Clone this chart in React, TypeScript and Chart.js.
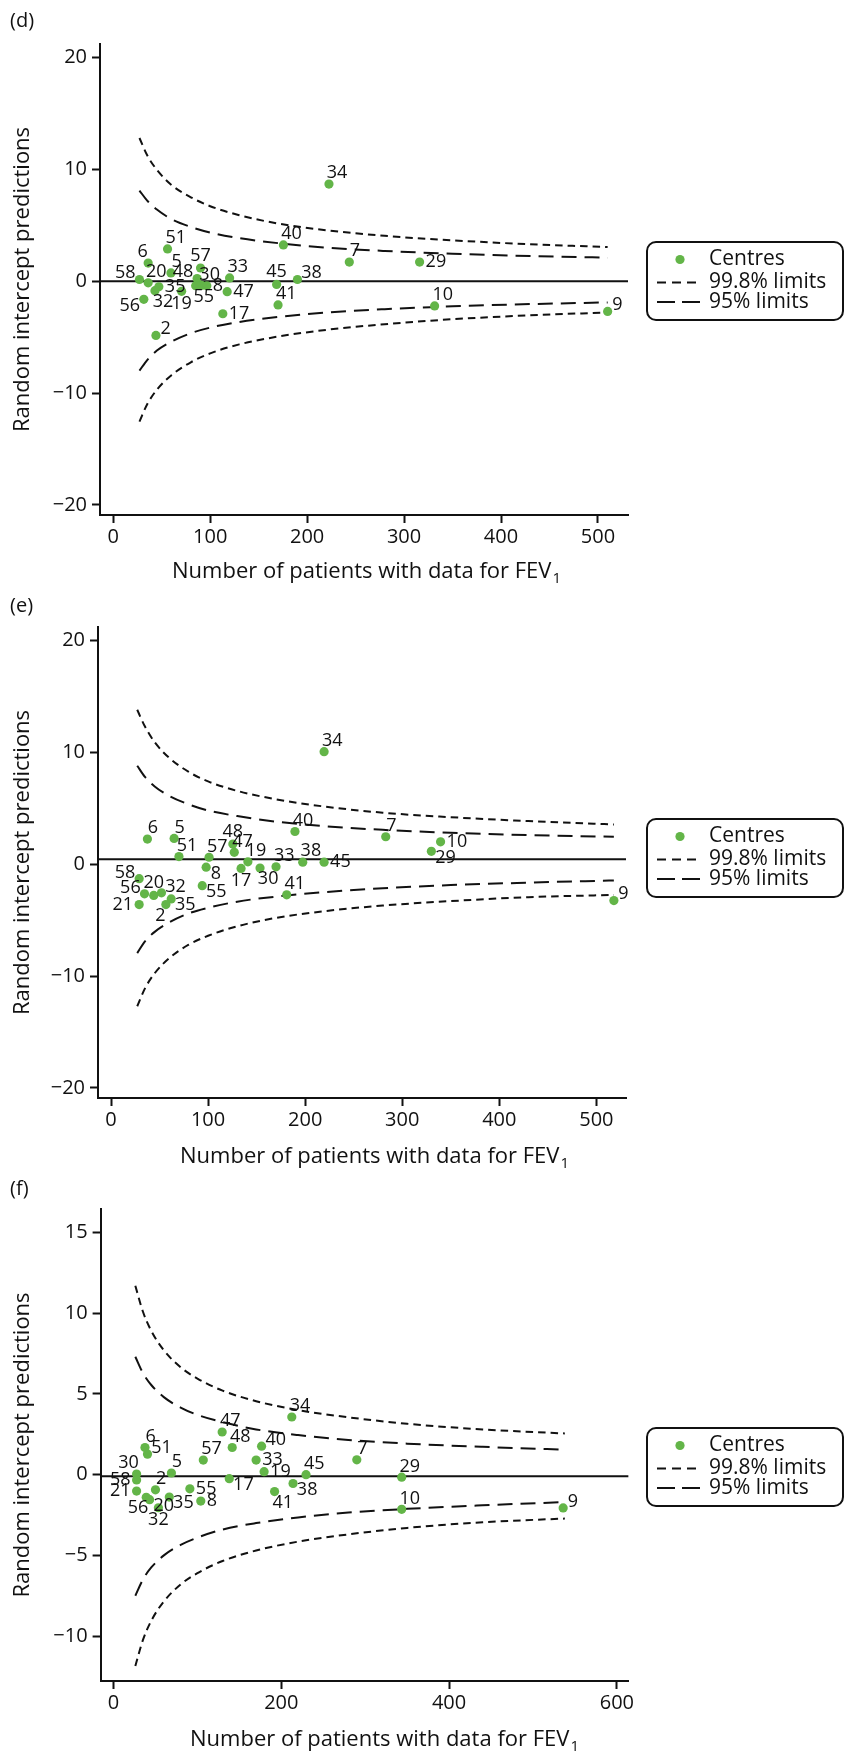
import { useEffect, useRef } from "react";
import { Chart, registerables } from "chart.js";

Chart.register(...registerables);

const FONT = '"Open Sans", "Noto Sans", "DejaVu Sans", sans-serif';
const GREEN = "#63b548";
const INK = "#111111";

// ---------- Panel (d) ----------
const dCentres = [58, 20, 6, 51, 5, 35, 32, 56, 19, 2, 57, 48, 30, 8, 55, 33, 47, 17, 45, 38, 41, 40, 34, 7, 29, 10, 9];
const dPatients = [27, 36, 36, 56, 59.5, 47, 43, 31.5, 70.5, 44, 90, 86.5, 91, 96.5, 85, 120, 117.5, 113, 168.5, 190, 170, 175.5, 222.5, 243.5, 316, 331.5, 510];
const dPredictions = [0.15, -0.15, 1.62, 2.88, 0.74, -0.5, -0.85, -1.62, -0.91, -4.85, 1.18, 0.24, -0.38, -0.41, -0.41, 0.29, -0.94, -2.91, -0.29, 0.15, -2.12, 3.24, 8.68, 1.71, 1.71, -2.21, -2.7];
// label placement as clock positions (3 = right, 12 = above)
const dLabelClock = [10, 1, 11, 1, 1, 3, 5, 8, 6, 2, 12, 10, 1, 3, 5, 1, 3, 3, 12, 2, 1, 1, 1, 1, 3, 1, 2];
const dLimitN = [27, 35, 45, 60, 80, 100, 130, 170, 220, 280, 350, 430, 510];
const dUpper998 = [12.8, 11.25, 9.95, 8.6, 7.5, 6.7, 5.9, 5.15, 4.55, 4.05, 3.65, 3.3, 3.05];
const dLower998 = [-12.55, -11.0, -9.7, -8.4, -7.25, -6.45, -5.65, -4.95, -4.35, -3.85, -3.4, -3.05, -2.8];
const dUpper95 = [8.1, 7.2, 6.4, 5.55, 4.85, 4.35, 3.85, 3.4, 3.0, 2.7, 2.45, 2.25, 2.1];
const dLower95 = [-8.0, -7.05, -6.2, -5.4, -4.65, -4.15, -3.65, -3.2, -2.8, -2.5, -2.25, -2.05, -1.9];
const dMean = 0;
const dXTicks = [0, 100, 200, 300, 400, 500];
const dYTicks = [-20, -10, 0, 10, 20];

// ---------- Panel (e) ----------
const eCentres = [34, 6, 5, 51, 57, 8, 48, 47, 19, 17, 30, 33, 38, 45, 40, 7, 10, 29, 58, 55, 41, 56, 20, 32, 21, 35, 2, 9];
const ePatients = [219.5, 37.5, 65, 70, 101, 98, 125.5, 127, 141, 134, 153.5, 170, 197.5, 219.5, 189.5, 283, 339.5, 330, 29, 94, 181, 34.5, 44, 52, 29, 62, 56.5, 518];
const ePredictions = [10.06, 2.24, 2.3, 0.68, 0.62, -0.27, 1.8, 1.06, 0.21, -0.38, -0.35, -0.24, 0.18, 0.18, 2.92, 2.45, 2.0, 1.15, -1.3, -1.92, -2.74, -2.65, -2.79, -2.56, -3.61, -3.11, -3.61, -3.25];
const eLabelClock = [1, 1, 1, 1, 1, 4, 12, 1, 1, 6, 5, 1, 1, 3, 1, 1, 3, 4, 10, 4, 1, 10, 12, 2, 9, 4, 7, 2];
const eLimitN = [27, 35, 45, 60, 80, 100, 130, 170, 220, 280, 350, 430, 518];
const eUpper998 = [13.8, 12.3, 10.9, 9.5, 8.25, 7.4, 6.55, 5.8, 5.15, 4.6, 4.2, 3.85, 3.55];
const eLower998 = [-12.7, -11.1, -9.75, -8.4, -7.2, -6.4, -5.55, -4.8, -4.2, -3.7, -3.3, -2.95, -2.75];
const eUpper95 = [8.8, 7.8, 6.95, 6.1, 5.35, 4.8, 4.3, 3.8, 3.4, 3.07, 2.8, 2.6, 2.45];
const eLower95 = [-7.95, -6.9, -6.05, -5.2, -4.4, -3.9, -3.35, -2.9, -2.5, -2.15, -1.87, -1.65, -1.45];
const eMean = 0.45;
const eXTicks = [0, 100, 200, 300, 400, 500];
const eYTicks = [-20, -10, 0, 10, 20];

// ---------- Panel (f) ----------
const fCentres = [47, 34, 6, 51, 48, 40, 57, 33, 7, 30, 58, 5, 19, 45, 29, 17, 2, 21, 55, 38, 41, 56, 20, 32, 35, 8, 10, 9];
const fPatients = [129.5, 212.5, 37.5, 40.5, 141.5, 176.5, 107, 170, 290, 27.5, 27.5, 69, 179.5, 229.5, 343.5, 138, 50, 27.5, 91, 214, 192, 39, 43, 53.5, 66.5, 104, 343.5, 536];
const fPredictions = [2.64, 3.57, 1.68, 1.27, 1.68, 1.76, 0.9, 0.9, 0.92, 0.04, -0.33, 0.1, 0.18, 0, -0.16, -0.25, -0.94, -1.02, -0.88, -0.55, -1.05, -1.4, -1.55, -2.05, -1.39, -1.64, -2.15, -2.06];
const fLabelClock = [1, 1, 1, 2, 1, 2, 1, 3, 1, 11, 9, 1, 3, 1, 1, 4, 1, 9, 3, 4, 5, 7, 4, 6, 4, 3, 1, 2];
const fLimitN = [26, 35, 45, 60, 80, 100, 130, 170, 220, 280, 350, 440, 538];
const fUpper998 = [11.7, 10.1, 8.9, 7.7, 6.65, 5.95, 5.2, 4.55, 4.0, 3.55, 3.15, 2.8, 2.55];
const fLower998 = [-11.85, -10.25, -9.05, -7.85, -6.8, -6.1, -5.35, -4.7, -4.15, -3.7, -3.3, -2.95, -2.72];
const fUpper95 = [7.3, 6.3, 5.55, 4.8, 4.15, 3.7, 3.25, 2.8, 2.45, 2.15, 1.92, 1.72, 1.55];
const fLower95 = [-7.5, -6.5, -5.75, -5.0, -4.35, -3.9, -3.4, -3.0, -2.65, -2.35, -2.12, -1.9, -1.7];
const fMean = -0.1;
const fXTicks = [0, 200, 400, 600];
const fYTicks = [-10, -5, 0, 5, 10, 15];

const Y_TITLE = "Random intercept predictions";
const X_TITLE = "Number of patients with data for FEV";
const X_TITLE_SUB = "1";

type Frame = {
  height: number;
  areaTop: number;
  areaBottom: number;
  areaLeft: number;
  areaRight: number;
  legendTop: number;
  tagY: number;
  titleY: number;
  titleLeft: number;
};

type Panel = {
  tag: string;
  centres: number[];
  patients: number[];
  predictions: number[];
  clocks: number[];
  limitN: number[];
  upper998: number[];
  lower998: number[];
  upper95: number[];
  lower95: number[];
  mean: number;
  xTicks: number[];
  yTicks: number[];
  xRange: [number, number];
  yRange: [number, number];
  frame: Frame;
};

const PANELS: Panel[] = [
  {
    tag: "(d)",
    centres: dCentres, patients: dPatients, predictions: dPredictions, clocks: dLabelClock,
    limitN: dLimitN, upper998: dUpper998, lower998: dLower998, upper95: dUpper95, lower95: dLower95,
    mean: dMean, xTicks: dXTicks, yTicks: dYTicks,
    xRange: [-13.7, 531], yRange: [-20.9, 21.2],
    frame: { height: 590, areaTop: 44, areaBottom: 515, areaLeft: 100, areaRight: 628, legendTop: 242, tagY: 21, titleY: 572, titleLeft: 172 },
  },
  {
    tag: "(e)",
    centres: eCentres, patients: ePatients, predictions: ePredictions, clocks: eLabelClock,
    limitN: eLimitN, upper998: eUpper998, lower998: eLower998, upper95: eUpper95, lower95: eLower95,
    mean: eMean, xTicks: eXTicks, yTicks: eYTicks,
    xRange: [-13.4, 530.5], yRange: [-20.9, 21.2],
    frame: { height: 588, areaTop: 37, areaBottom: 508, areaLeft: 98, areaRight: 626, legendTop: 229, tagY: 16, titleY: 567, titleLeft: 180 },
  },
  {
    tag: "(f)",
    centres: fCentres, patients: fPatients, predictions: fPredictions, clocks: fLabelClock,
    limitN: fLimitN, upper998: fUpper998, lower998: fLower998, upper95: fUpper95, lower95: fLower95,
    mean: fMean, xTicks: fXTicks, yTicks: fYTicks,
    xRange: [-15.4, 614], yRange: [-12.78, 16.45],
    frame: { height: 578, areaTop: 31, areaBottom: 503, areaLeft: 100.6, areaRight: 628.6, legendTop: 250, tagY: 11.5, titleY: 562, titleLeft: 190 },
  },
];

// Centre numbers written next to each marker, placed by clock position.
const centreLabels = {
  id: "centreLabels",
  afterDatasetsDraw(chart: any, _args: any, opts: any) {
    const meta = chart.getDatasetMeta(0);
    const ctx: CanvasRenderingContext2D = chart.ctx;
    ctx.save();
    ctx.font = `18px ${FONT}`;
    ctx.fillStyle = INK;
    ctx.textAlign = "center";
    ctx.textBaseline = "middle";
    const gap = 6;
    const h = 13;
    meta.data.forEach((el: any, i: number) => {
      const text = String(opts.ids[i]);
      const w = ctx.measureText(text).width;
      const a = ((opts.clocks[i] % 12) * Math.PI) / 6;
      const cx = el.x + Math.sin(a) * (gap + w / 2);
      const cy = el.y - Math.cos(a) * (gap + h / 2);
      ctx.fillText(text, cx, cy);
    });
    ctx.restore();
  },
};

// Boxed legend to the right of the plot.
const boxLegend = {
  id: "boxLegend",
  afterDraw(chart: any, _args: any, opts: any) {
    const ctx: CanvasRenderingContext2D = chart.ctx;
    const left = 647;
    const right = 843;
    const top = opts.top;
    const h = 78;
    const labels: string[] = chart.data.datasets.slice(0, 3).map((d: any) => d.label);
    const rows = [top + 17.5, top + 40.5, top + 60];
    ctx.save();
    ctx.strokeStyle = INK;
    ctx.lineWidth = 2;
    ctx.beginPath();
    ctx.roundRect(left, top, right - left, h, 9);
    ctx.stroke();

    ctx.fillStyle = GREEN;
    ctx.beginPath();
    ctx.arc(680, rows[0], 4.6, 0, Math.PI * 2);
    ctx.fill();

    ctx.lineWidth = 2;
    ctx.setLineDash([9, 6]);
    ctx.beginPath();
    ctx.moveTo(657, rows[1]);
    ctx.lineTo(696, rows[1]);
    ctx.stroke();
    ctx.setLineDash([18, 7]);
    ctx.beginPath();
    ctx.moveTo(657, rows[2]);
    ctx.lineTo(700, rows[2]);
    ctx.stroke();
    ctx.setLineDash([]);

    ctx.fillStyle = INK;
    ctx.font = `21px ${FONT}`;
    ctx.textAlign = "left";
    ctx.textBaseline = "middle";
    labels.forEach((t, i) => ctx.fillText(t, 709, rows[i]));
    ctx.restore();
  },
};

// Panel tag and x-axis title (with subscript).
const panelText = {
  id: "panelText",
  afterDraw(chart: any, _args: any, opts: any) {
    const ctx: CanvasRenderingContext2D = chart.ctx;
    ctx.save();
    ctx.fillStyle = INK;
    ctx.textAlign = "left";
    ctx.textBaseline = "middle";
    ctx.font = `20px ${FONT}`;
    ctx.fillText(opts.tag, 10, opts.tagY);
    ctx.font = `22px ${FONT}`;
    ctx.fillText(X_TITLE, opts.titleLeft, opts.titleY);
    const w = ctx.measureText(X_TITLE).width;
    ctx.font = `15px ${FONT}`;
    ctx.fillText(X_TITLE_SUB, opts.titleLeft + w + 1, opts.titleY + 7);
    ctx.restore();
  },
};

function buildConfig(p: Panel): any {
  const f = p.frame;
  const curve = (ys: number[]) => p.limitN.map((n, i) => ({ x: n, y: ys[i] }));
  const limitStyle = (dash: number[]) => ({
    type: "line",
    borderColor: INK,
    borderWidth: 2,
    borderDash: dash,
    pointRadius: 0,
    fill: false,
    cubicInterpolationMode: "monotone",
  });
  const shortDash = [7.5, 5];
  const longDash = [15, 8];
  return {
    type: "scatter",
    data: {
      datasets: [
        {
          label: "Centres",
          data: p.patients.map((n, i) => ({ x: n, y: p.predictions[i] })),
          backgroundColor: GREEN,
          borderWidth: 0,
          pointRadius: 4.6,
          pointHoverRadius: 4.6,
        },
        { label: "99.8% limits", data: curve(p.upper998), ...limitStyle(shortDash) },
        { label: "95% limits", data: curve(p.upper95), ...limitStyle(longDash) },
        { label: "99.8% limits", data: curve(p.lower998), ...limitStyle(shortDash) },
        { label: "95% limits", data: curve(p.lower95), ...limitStyle(longDash) },
        {
          label: "Mean",
          type: "line",
          data: [
            { x: p.xRange[0], y: p.mean },
            { x: p.xRange[1], y: p.mean },
          ],
          borderColor: INK,
          borderWidth: 2,
          pointRadius: 0,
        },
      ],
    },
    options: {
      responsive: false,
      animation: false,
      events: [],
      layout: { padding: { top: f.areaTop, right: 844 - f.areaRight, bottom: 0, left: 0 } },
      plugins: {
        legend: { display: false },
        tooltip: { enabled: false },
        title: { display: false },
        centreLabels: { ids: p.centres, clocks: p.clocks },
        boxLegend: { top: f.legendTop },
        panelText: { tag: p.tag, tagY: f.tagY, titleY: f.titleY, titleLeft: f.titleLeft },
      },
      scales: {
        x: {
          type: "linear",
          min: p.xRange[0],
          max: p.xRange[1],
          afterBuildTicks: (s: any) => {
            s.ticks = p.xTicks.map((v) => ({ value: v }));
          },
          afterFit: (s: any) => {
            s.height = f.height - f.areaBottom;
          },
          grid: { drawOnChartArea: false, drawTicks: true, tickLength: 8, tickWidth: 2, tickColor: INK, color: INK },
          border: { display: true, color: INK, width: 2 },
          ticks: { font: { family: FONT, size: 20 }, color: INK, padding: 2, maxRotation: 0, autoSkip: false },
          title: { display: false },
        },
        y: {
          type: "linear",
          min: p.yRange[0],
          max: p.yRange[1],
          afterBuildTicks: (s: any) => {
            s.ticks = p.yTicks.map((v) => ({ value: v }));
          },
          afterFit: (s: any) => {
            s.width = f.areaLeft;
          },
          grid: { drawOnChartArea: false, drawTicks: true, tickLength: 8, tickWidth: 2, tickColor: INK, color: INK },
          border: { display: true, color: INK, width: 2 },
          ticks: {
            font: { family: FONT, size: 20 },
            color: INK,
            padding: 5,
            autoSkip: false,
            callback: (v: number) => (v < 0 ? "\u2212" + Math.abs(v) : String(v)),
          },
          title: {
            display: true,
            text: Y_TITLE,
            color: INK,
            font: { family: FONT, size: 22 },
            padding: { top: 10, bottom: 0 },
          },
        },
      },
    },
    plugins: [centreLabels, boxLegend, panelText],
  };
}

function FunnelPanel({ panel }: { panel: Panel }) {
  const ref = useRef<HTMLCanvasElement>(null);
  useEffect(() => {
    if (!ref.current) return;
    const chart = new Chart(ref.current, buildConfig(panel));
    return () => chart.destroy();
  }, [panel]);
  return (
    <canvas
      ref={ref}
      width={844}
      height={panel.frame.height}
      style={{ display: "block", width: 844, height: panel.frame.height }}
    />
  );
}

export default function App() {
  return (
    <div style={{ position: "absolute", left: 0, top: 0, width: 844, height: 1756, background: "#ffffff" }}>
      {PANELS.map((p) => (
        <FunnelPanel key={p.tag} panel={p} />
      ))}
    </div>
  );
}
